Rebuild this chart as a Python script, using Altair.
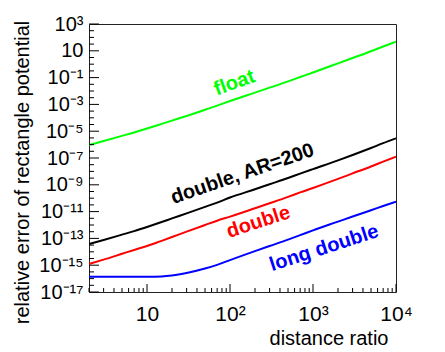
import altair as alt
import pandas as pd

# ---- data ----
distance_ratio = [2, 3, 5, 7, 10, 15, 20, 30, 50, 70, 100, 200, 300, 500, 700,
                  1000, 2000, 3000, 5000, 7000, 10000]
err_float = [9.3e-7, 1.86e-6, 4.5e-6, 8.1e-6, 1.58e-5, 3.5e-5, 6.2e-5, 1.38e-4,
             4.0e-4, 8.1e-4, 1.78e-3, 7.6e-3, 1.78e-2, 5.2e-2, 0.11, 0.24, 1.15,
             2.9, 9.3, 20.9, 47.9]
err_double_ar200 = [3.8e-14, 7.6e-14, 1.9e-13, 3.5e-13, 7.1e-13, 1.66e-12, 3.1e-12,
                    7.4e-12, 2.24e-11, 4.7e-11, 1.12e-10, 4.7e-10, 1.1e-9, 3.2e-9,
                    6.8e-9, 1.48e-8, 6.6e-8, 1.66e-7, 5.6e-7, 1.29e-6, 2.95e-6]
err_double = [1.23e-15, 2.6e-15, 7.1e-15, 1.38e-14, 2.7e-14, 6.6e-14, 1.26e-13,
              3.2e-13, 1.0e-12, 2.1e-12, 4.2e-12, 1.78e-11, 4.2e-11, 1.26e-10,
              2.7e-10, 5.8e-10, 2.75e-9, 7.1e-9, 2.34e-8, 5.4e-8, 1.26e-7]
err_long_double = [1.38e-16, 1.38e-16, 1.38e-16, 1.38e-16, 1.38e-16, 1.45e-16,
                   1.7e-16, 2.6e-16, 5.6e-16, 1.05e-15, 2.4e-15, 1.12e-14, 2.7e-14,
                   8.1e-14, 1.74e-13, 4.0e-13, 1.78e-12, 4.3e-12, 1.26e-11,
                   2.6e-11, 5.5e-11]

series_names = ["float", "double, AR=200", "double", "long double"]
series_colors = ["#00ff00", "#000000", "#ff0000", "#0000ff"]

# label anchor positions (data coordinates) and rotation
label_x = [113, 141, 220, 1361]
label_y = [4.0e-2, 6.5e-9, 1.66e-12, 1.9e-14]
label_angle = [340, 341, 342, 342]

y_label_exps = list(range(-17, 4, 2))
y_major_ticks = [10.0 ** e for e in y_label_exps]
y_minor_ticks = [10.0 ** (k / 2) for k in range(-34, 7)]
y_minor_ticks = [v for v in y_minor_ticks if all(abs(v / m - 1) > 1e-6 for m in y_major_ticks)]
x_major_ticks = [10, 100, 1000, 10000]
x_minor_ticks = [m * 10 ** d for d in range(0, 4) for m in range(2, 10)]

SUP = str.maketrans("-0123456789", "⁻⁰¹²³⁴⁵⁶⁷⁸⁹")


def lab(e):
    return "10" if e == 1 else "10" + str(e).translate(SUP)


y_label_list = [lab(e) for e in range(-17, 4)]
y_expr = "[" + ",".join("'%s'" % s for s in y_label_list) + "][round(log(datum.value)/LN10)+17]"
x_label_list = [lab(e) for e in range(0, 5)]
x_expr = "[" + ",".join("'%s'" % s for s in x_label_list) + "][round(log(datum.value)/LN10)]"

# ---- tables ----
rows = []
for name, ys in zip(series_names, [err_float, err_double_ar200, err_double, err_long_double]):
    for x, y in zip(distance_ratio, ys):
        rows.append({"series": name, "x": x, "y": y})
df = pd.DataFrame(rows)
lab_df = pd.DataFrame({"series": series_names, "x": label_x, "y": label_y, "angle": label_angle})

W, H = 307, 268
FONT = "Liberation Sans, Arial, Helvetica, sans-serif"
xscale = alt.Scale(type="log", domain=[2, 10000], nice=False)
yscale = alt.Scale(type="log", domain=[1e-17, 1e3], nice=False)
cscale = alt.Scale(domain=series_names, range=series_colors)

xaxis = alt.Axis(
    values=x_major_ticks, labelExpr=x_expr, ticks=False, domain=False, grid=False,
    title="distance ratio", labelFont=FONT, labelFontSize=21, labelColor="black",
    labelPadding=11, labelFlush=False,
    titleFont=FONT, titleFontSize=20, titleFontWeight="normal", titleColor="black",
    titleAlign="right", titleAnchor="end", titleX=299, titleY=52, titleBaseline="alphabetic")
yaxis = alt.Axis(
    values=y_major_ticks, labelExpr=y_expr, ticks=False, domain=False, grid=False,
    title="relative error of rectangle potential", labelFont=FONT, labelFontSize=20,
    labelColor="black", labelPadding=6, labelFlush=False, labelBaseline="middle",
    titleFont=FONT, titleFontSize=20, titleFontWeight="normal", titleColor="black",
    titleAngle=270, titleAlign="center", titleBaseline="middle", titleX=-67, titleY=148)

lines = alt.Chart(df).mark_line(strokeWidth=2, clip=True, interpolate="monotone").encode(
    x=alt.X("x:Q", scale=xscale, axis=xaxis, title="distance ratio"),
    y=alt.Y("y:Q", scale=yscale, axis=yaxis, title="relative error of rectangle potential"),
    color=alt.Color("series:N", scale=cscale, legend=None),
    detail="series:N",
)

labels = alt.Chart(lab_df).mark_text(font=FONT, fontSize=20, fontWeight="bold",
                                      align="center", baseline="middle").encode(
    x=alt.X("x:Q", scale=xscale, axis=xaxis, title="distance ratio"),
    y=alt.Y("y:Q", scale=yscale, axis=yaxis, title="relative error of rectangle potential"),
    text="series:N",
    angle=alt.Angle("angle:Q", scale=None),
    color=alt.Color("series:N", scale=cscale, legend=None),
)

ymaj = alt.Chart(pd.DataFrame({"v": y_major_ticks})).mark_rule(color="black", strokeWidth=1).encode(
    y=alt.Y("v:Q", scale=yscale, axis=yaxis, title="relative error of rectangle potential"),
    x=alt.value(0), x2=alt.value(10))
ymin = alt.Chart(pd.DataFrame({"v": y_minor_ticks})).mark_rule(color="black", strokeWidth=1).encode(
    y=alt.Y("v:Q", scale=yscale, axis=yaxis, title="relative error of rectangle potential"),
    x=alt.value(0), x2=alt.value(5))
xmaj = alt.Chart(pd.DataFrame({"v": x_major_ticks})).mark_rule(color="black", strokeWidth=1).encode(
    x=alt.X("v:Q", scale=xscale, axis=xaxis, title="distance ratio"),
    y=alt.value(H), y2=alt.value(H - 8))
xmin = alt.Chart(pd.DataFrame({"v": x_minor_ticks})).mark_rule(color="black", strokeWidth=1).encode(
    x=alt.X("v:Q", scale=xscale, axis=xaxis, title="distance ratio"),
    y=alt.value(H), y2=alt.value(H - 4))

chart = alt.layer(lines, labels, ymaj, ymin, xmaj, xmin).properties(
    width=W, height=H,
    autosize=alt.AutoSizeParams(type="none"),
    padding={"left": 81, "top": 16, "right": 30, "bottom": 60},
).configure(background="white").configure_view(stroke="#222", strokeWidth=1)

chart.save("out.html", embed_options={"renderer": "svg", "actions": False})
